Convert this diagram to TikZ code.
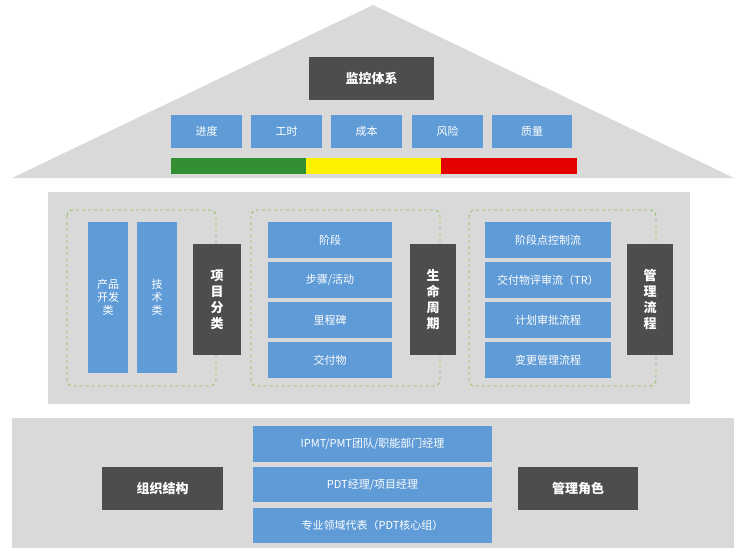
\documentclass[tikz,border=0pt]{standalone}
\usepackage{fontspec}
\setmainfont{Noto Sans CJK SC}
\usetikzlibrary{positioning}
\definecolor{roofgray}{HTML}{D9D9D9}
\definecolor{darkbox}{HTML}{4D4D4D}
\definecolor{bluebox}{HTML}{5F9BD6}
\definecolor{dashgreen}{HTML}{8CC152}
\tikzset{
  blue box/.style={fill=bluebox, text=white, font=\fontsize{11}{13}\selectfont, inner sep=0pt, align=center},
  dark box/.style={fill=darkbox, text=white, font=\bfseries\fontsize{13}{16}\selectfont, inner sep=0pt, align=center},
  group frame/.style={draw=dashgreen, dashed, rounded corners=6pt, line width=0.8pt}
}
\begin{document}
\begin{tikzpicture}[x=1pt,y=-1pt]
    \useasboundingbox (0,0) rectangle (746,559);

    % roof and panels
    \fill[roofgray] (12,178) -- (373,5) -- (734,178) -- cycle;
    \fill[roofgray] (48,192) rectangle (690,404);
    \fill[roofgray] (12,418) rectangle (734,548);

    \node[dark box, minimum width=125pt, minimum height=43pt] (monitor) at (371.5,78.5) {监控体系};

    \foreach \name/\txt/\xa/\xb in {sched/进度/171/242, hours/工时/251/322, cost/成本/331/402, risk/风险/412/483, qual/质量/492/572}
        \node[blue box, minimum width=\xb-\xa, minimum height=33pt] (\name) at ({(\xa+\xb)/2},131.5) {\txt};

    \fill[green!45!black!80] (171,158) rectangle (306,174);
    \fill[yellow] (306,158) rectangle (441,174);
    \fill[red!90!black] (441,158) rectangle (577,174);

    % middle floor
    \draw[group frame] (67,210) rectangle (216,386);
    \draw[group frame] (251,210) rectangle (440,386);
    \draw[group frame] (469,210) rectangle (656,386);

    \node[blue box, minimum width=40pt, minimum height=151pt] (product) at (108,297.5) {产品\\开发\\类};
    \node[blue box, minimum width=40pt, minimum height=151pt] (tech) at (157,297.5) {技\\术\\类};
    \node[dark box, minimum width=48pt, minimum height=111pt] (projcls) at (217,299.5) {项\\目\\分\\类};

    \foreach \name/\txt/\y in {phase/阶段/240, step/{步骤/活动}/280, mile/里程碑/320, deliv/交付物/360}
        \node[blue box, minimum width=124pt, minimum height=36pt] (\name) at (330,\y) {\txt};
    \node[dark box, minimum width=46pt, minimum height=111pt] (life) at (433,299.5) {生\\命\\周\\期};

    \foreach \name/\txt/\y in {gate/阶段点控制流/240, tr/交付物评审流（TR）/280, plan/计划审批流程/320, change/变更管理流程/360}
        \node[blue box, minimum width=126pt, minimum height=36pt] (\name) at (548,\y) {\txt};
    \node[dark box, minimum width=46pt, minimum height=111pt] (mgmtflow) at (650,299.5) {管\\理\\流\\程};

    % ground floor
    \node[dark box, minimum width=121pt, minimum height=43pt] (org) at (162.5,488.5) {组织结构};
    \node[dark box, minimum width=120pt, minimum height=43pt] (roles) at (578,488.5) {管理角色};
    \node[blue box, minimum width=239pt, minimum height=36pt] (ipmt) at (372.5,444) {IPMT/PMT团队/职能部门经理};
    \node[blue box, minimum width=239pt, minimum height=35pt] (pdt) at (372.5,484.5) {PDT经理/项目经理};
    \node[blue box, minimum width=239pt, minimum height=35pt] (expert) at (372.5,525.5) {专业领域代表（PDT核心组）};
\end{tikzpicture}
\end{document}
